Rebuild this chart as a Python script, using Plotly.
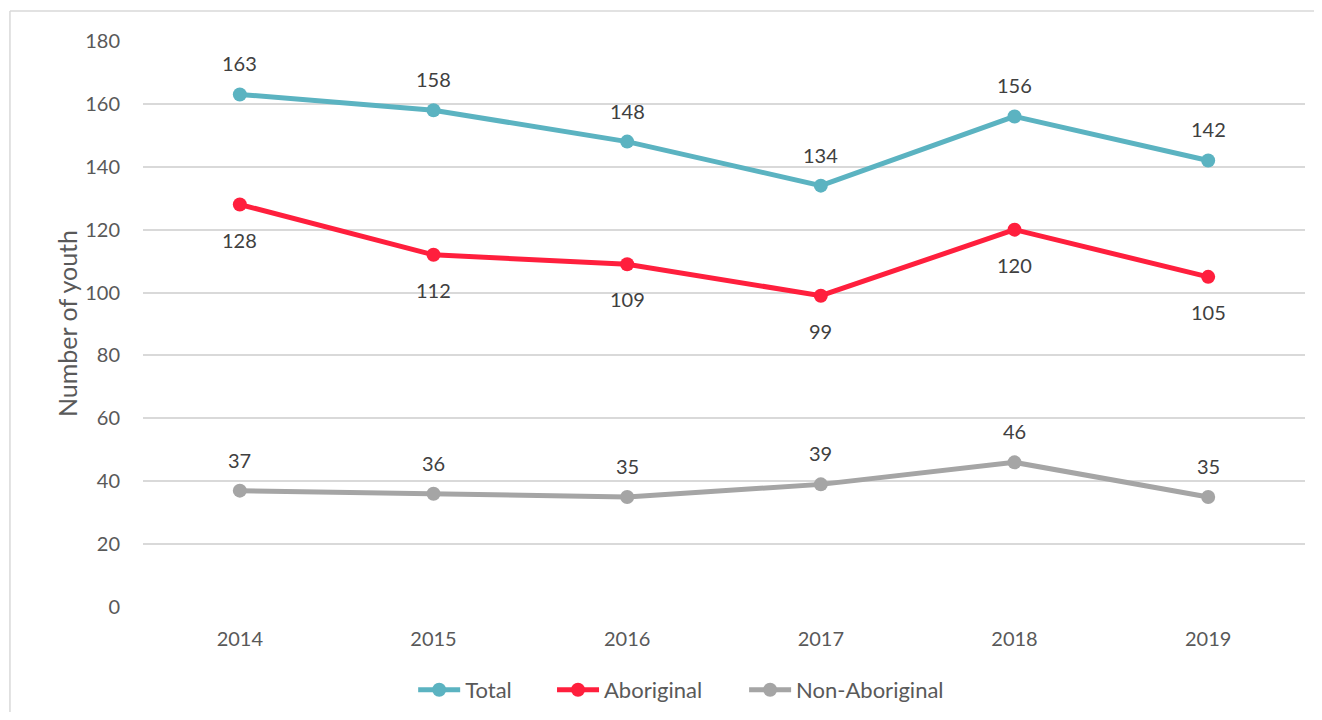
import plotly.graph_objects as go

years = ["2014", "2015", "2016", "2017", "2018", "2019"]
total = [163, 158, 148, 134, 156, 142]
aboriginal = [128, 112, 109, 99, 120, 105]
non_aboriginal = [37, 36, 35, 39, 46, 35]
y_ticks = [0, 20, 40, 60, 80, 100, 120, 140, 160, 180]

FONT = "Lato, 'Open Sans', sans-serif"
TXT = "#595959"

series = [
    ("Total", total, "#5BB3C1", 31, "legend", 0.2325),
    ("Aboriginal", aboriginal, "#FF1F3D", -35, "legend2", 0.352),
    ("Non-Aboriginal", non_aboriginal, "#A5A5A5", 31, "legend3", 0.5173),
]

xpos = list(range(len(years)))

fig = go.Figure()
annotations = []
legends = {}
for name, vals, color, shift, leg, lx in series:
    fig.add_trace(go.Scatter(
        x=xpos, y=vals, name=name, mode="lines+markers",
        line=dict(color=color, width=5),
        marker=dict(color=color, size=14),
        legend=leg,
    ))
    legends[leg] = dict(orientation="h", x=lx, xanchor="left",
                        y=0.0313, yref="container", yanchor="middle",
                        font=dict(family=FONT, size=22, color=TXT),
                        itemwidth=42, bgcolor="rgba(0,0,0,0)")
    for x, v in zip(xpos, vals):
        annotations.append(dict(
            x=x, y=v, xref="x", yref="y", text=str(v), showarrow=False,
            yshift=shift,
            font=dict(family=FONT, size=20, color="#404040"),
        ))

annotations.append(dict(
    x=-0.08, y=0.5, xref="paper", yref="paper", text="Number of youth",
    textangle=-90, showarrow=False,
    font=dict(family=FONT, size=25, color=TXT),
))

fig.update_layout(
    width=1306, height=704,
    margin=dict(l=135, r=9, t=33, b=105),
    paper_bgcolor="white", plot_bgcolor="white",
    font=dict(family=FONT, size=20, color=TXT),
    showlegend=True,
    annotations=annotations,
    shapes=[
        dict(type="line", xref="paper", yref="paper",
             x0=-0.1145, y0=1.053, x1=1.02, y1=1.053,
             line=dict(color="#D9D9D9", width=1.5), layer="below"),
        dict(type="line", xref="paper", yref="paper",
             x0=-0.1145, y0=-0.2, x1=-0.1145, y1=1.053,
             line=dict(color="#D9D9D9", width=1.5), layer="below"),
    ],
    **legends,
)
fig.update_xaxes(range=[-0.5, len(years) - 0.5], tickvals=xpos,
                 ticktext=years, showgrid=False, showline=False,
                 zeroline=False, ticks="", ticklabelstandoff=18,
                 automargin=False,
                 tickfont=dict(family=FONT, size=20, color=TXT))
fig.update_yaxes(range=[0, 180], tickvals=y_ticks, showgrid=True,
                 gridcolor="#D9D9D9", gridwidth=1.5, zeroline=False,
                 showline=False, ticks="", ticklabelstandoff=22,
                 automargin=False,
                 tickfont=dict(family=FONT, size=20, color=TXT))

fig.write_html("out.html")
